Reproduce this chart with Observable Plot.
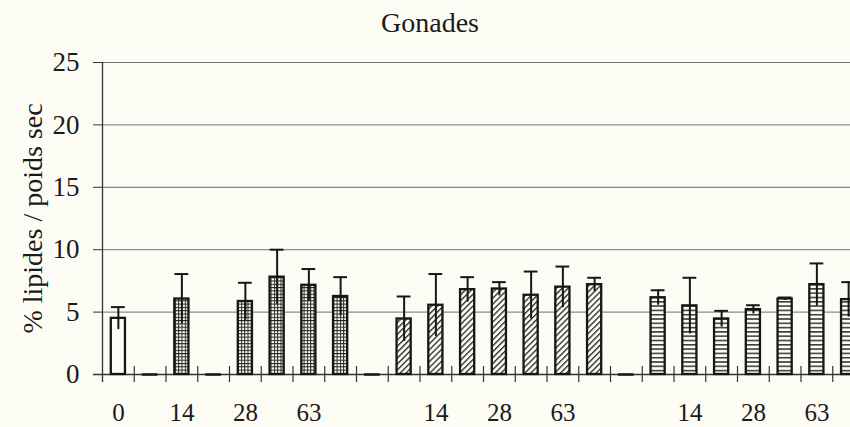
<!DOCTYPE html>
<html>
<head>
<meta charset="utf-8">
<script src="https://cdn.jsdelivr.net/npm/d3@7"></script>
<script src="https://cdn.jsdelivr.net/npm/@observablehq/plot@0.6"></script>
<style>
  html, body { margin: 0; padding: 0; background: #fcfcf5; overflow: hidden; }
  #wrap { position: relative; width: 850px; height: 427px; overflow: hidden; }
  #title { position: absolute; left: 0; top: 9px; width: 860px; text-align: center;
           font-family: "Liberation Serif", "Times New Roman", serif; font-size: 28px;
           line-height: 1; color: #1a1a1a; }
  #chart { position: absolute; left: 0; top: 0; }
</style>
</head>
<body>
<div id="wrap">
  <div id="title">Gonades</div>
  <div id="chart"></div>
</div>
<script>
// ---- data ----
const categories = ["T0","vide1","A14","vide2","A28","A42","A63","A77","vide3",
                    "B7","B14","B21","B28","B42","B63","B77","vide4",
                    "C7","C14","C21","C28","C42","C63","C77"];
const means = [4.5, 0, 6.05, 0, 5.85, 7.8, 7.15, 6.25, 0,
               4.45, 5.55, 6.8, 6.85, 6.35, 7.0, 7.2, 0,
               6.15, 5.5, 4.45, 5.2, 6.05, 7.2, 6.0];
const sds = [0.9, 0, 2.0, 0, 1.5, 2.2, 1.3, 1.55, 0,
             1.8, 2.5, 1.0, 0.55, 1.9, 1.65, 0.55, 0,
             0.6, 2.25, 0.65, 0.35, 0.12, 1.7, 1.4];
const patterns = ["blank","none","grid","none","grid","grid","grid","grid","none",
                  "diag","diag","diag","diag","diag","diag","diag","none",
                  "horiz","horiz","horiz","horiz","horiz","horiz","horiz"];
const xLabelCats = [0, 2, 4, 6, 10, 12, 14, 18, 20, 22];
const xLabels = ["0", "14", "28", "63", "14", "28", "63", "14", "28", "63"];
const yTicks = [0, 5, 10, 15, 20, 25];
const yTitle = "% lipides / poids sec";

// ---- build table ----
const rows = categories.map((c, i) => ({i, cat: c, mean: means[i], sd: sds[i], pattern: patterns[i]}));
const bars = rows.filter(d => d.pattern !== "none");
const zeros = rows.filter(d => d.pattern === "none");
const boundaries = d3.range(1, categories.length);
const labelMap = new Map(xLabelCats.map((c, k) => [c + 0.5, xLabels[k]]));
const fills = {blank: "#fdfdf7", grid: "url(#pGrid)", diag: "url(#pDiag)", horiz: "url(#pHoriz)"};

const ink = "#161616";
const barMarks = Object.keys(fills).map(p =>
  Plot.rectY(bars.filter(d => d.pattern === p), {
    x1: d => d.i, x2: d => d.i + 1, y1: 0, y2: "mean",
    insetLeft: 8.8, insetRight: 8.8,
    fill: fills[p], stroke: ink, strokeWidth: 2.3
  })
);

const chart = Plot.plot({
  width: 864, height: 427,
  marginLeft: 102, marginRight: 0, marginTop: 62, marginBottom: 53,
  style: {background: "transparent", fontFamily: "'Liberation Serif', 'Times New Roman', serif",
          fontSize: "26px", color: "#1a1a1a", maxWidth: "none", overflow: "visible"},
  x: {domain: [0, categories.length], axis: null},
  y: {domain: [0, 25], axis: null},
  marks: [
    Plot.gridY(yTicks.slice(1), {stroke: "#6f6f6f", strokeOpacity: 1, strokeWidth: 1}),
    Plot.axisY(yTicks, {tickSize: 9, tickPadding: 14, stroke: "#333", label: null, fontSize: 27}),
    Plot.axisX([...labelMap.keys()], {tickSize: 0, tickPadding: 29, tickFormat: d => labelMap.get(d), label: null, fontSize: 25}),
    Plot.ruleX([0], {insetBottom: -8, stroke: "#333", strokeWidth: 1.3}),
    Plot.ruleY([0], {insetLeft: -9, stroke: "#333", strokeWidth: 1.5}),
    Plot.ruleX(boundaries, {y1: 0, y2: 0, insetTop: -8, insetBottom: -8, stroke: "#333", strokeWidth: 1.2}),
    ...barMarks,
    Plot.ruleY(zeros, {y: 0, x1: d => d.i, x2: d => d.i + 1, insetLeft: 8, insetRight: 8, stroke: ink, strokeWidth: 2.5}),
    Plot.ruleX(bars, {x: d => d.i + 0.5, y1: d => d.mean - d.sd, y2: d => d.mean + d.sd, stroke: ink, strokeWidth: 2}),
    Plot.ruleY(bars, {y: d => d.mean + d.sd, x1: d => d.i, x2: d => d.i + 1, insetLeft: 9, insetRight: 9, stroke: ink, strokeWidth: 2}),
    Plot.text([yTitle], {frameAnchor: "left", textAnchor: "middle", rotate: -90, dx: -69, fontSize: 28, fill: "#1a1a1a"})
  ]
});

// ---- patterns ----
const defs = d3.select(chart).insert("defs", ":first-child");
const pg = defs.append("pattern").attr("id", "pGrid").attr("patternUnits", "userSpaceOnUse")
  .attr("width", 3.3).attr("height", 3.3);
pg.append("rect").attr("width", 3.3).attr("height", 3.3).attr("fill", "#fdfdf7");
pg.append("path").attr("d", "M0 0.5H3.3M0.5 0V3.3").attr("stroke", "#222").attr("stroke-width", 1);

const pd = defs.append("pattern").attr("id", "pDiag").attr("patternUnits", "userSpaceOnUse")
  .attr("width", 4.2).attr("height", 4.2).attr("patternTransform", "rotate(45)");
pd.append("rect").attr("width", 4.2).attr("height", 4.2).attr("fill", "#fdfdf7");
pd.append("line").attr("x1", 0.7).attr("y1", 0).attr("x2", 0.7).attr("y2", 4.2)
  .attr("stroke", "#222").attr("stroke-width", 1.3);

const ph = defs.append("pattern").attr("id", "pHoriz").attr("patternUnits", "userSpaceOnUse")
  .attr("width", 4).attr("height", 4.3);
ph.append("rect").attr("width", 4).attr("height", 4.3).attr("fill", "#fdfdf7");
ph.append("line").attr("x1", 0).attr("y1", 0.8).attr("x2", 4).attr("y2", 0.8)
  .attr("stroke", "#222").attr("stroke-width", 1.4);

document.getElementById("chart").appendChild(chart);
</script>
</body>
</html>
